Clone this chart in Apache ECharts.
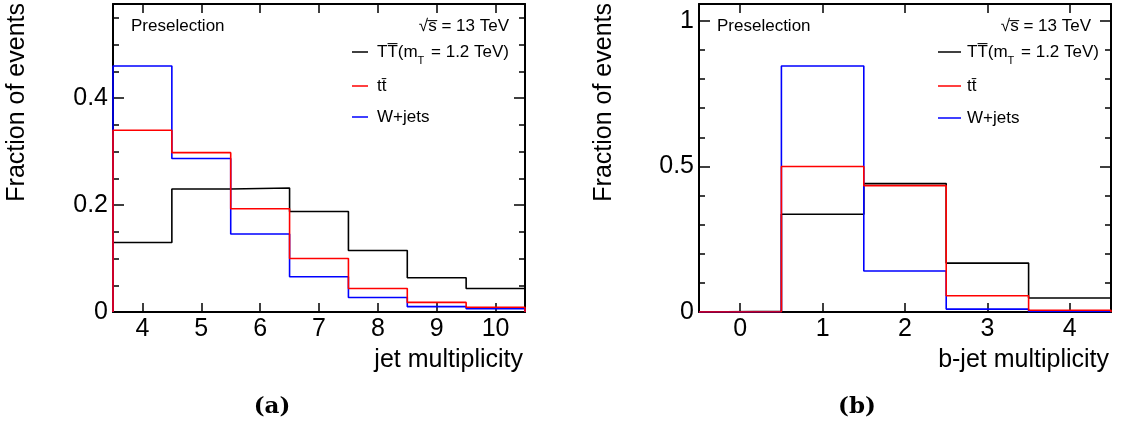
<!DOCTYPE html>
<html>
<head>
<meta charset="utf-8">
<script src="https://cdn.jsdelivr.net/npm/echarts@6/dist/echarts.min.js"></script>
<style>
  html, body { margin: 0; padding: 0; background: #ffffff; }
  #chart { width: 1124px; height: 428px; }
</style>
</head>
<body>
<div id="chart"></div>
<script>
// Jet multiplicity histogram (panel a): bin centres and normalised fractions
const jetBins = [4, 5, 6, 7, 8, 9, 10];
const jetTT = [0.130, 0.230, 0.232, 0.188, 0.115, 0.064, 0.044];
const jetTtbar = [0.340, 0.298, 0.193, 0.100, 0.044, 0.018, 0.009];
const jetWjets = [0.460, 0.287, 0.146, 0.066, 0.027, 0.010, 0.006];

// b-jet multiplicity histogram (panel b)
const bjetBins = [0, 1, 2, 3, 4];
const bjetTT = [0.002, 0.336, 0.441, 0.168, 0.048];
const bjetTtbar = [0.001, 0.500, 0.434, 0.056, 0.006];
const bjetWjets = [0.001, 0.845, 0.141, 0.010, 0.002];

// Axis ranges and tick marks
const jetRange = [3.5, 10.5];
const bjetRange = [-0.5, 4.5];
const jetYMax = 0.576;
const bjetYMax = 1.058;
const jetYMajor = [0, 0.2, 0.4];
const jetYMinor = [0.05, 0.1, 0.15, 0.25, 0.3, 0.35, 0.45, 0.5, 0.55];
const bjetYMajor = [0, 0.5, 1];
const bjetYMinor = [0.1, 0.2, 0.3, 0.4, 0.6, 0.7, 0.8, 0.9];

const seriesNames = ['TT', 'tt', 'W+jets'];
const seriesColors = ['#000000', '#ff0000', '#0000ff'];

const FONT = '"Liberation Sans", Arial, Helvetica, sans-serif';
const chart = echarts.init(document.getElementById('chart'), null, { renderer: 'canvas' });

// Outline of a histogram: rise at the first edge, flat tops, drop at the last edge
function histOutline(centres, values) {
  const pts = [[centres[0] - 0.5, 0]];
  centres.forEach((c, i) => pts.push([c - 0.5, values[i]]));
  const last = centres.length - 1;
  pts.push([centres[last] + 0.5, values[last]]);
  pts.push([centres[last] + 0.5, 0]);
  return pts;
}

const frameLine = { show: true, onZero: false, lineStyle: { color: '#000', width: 2 } };

function xAxesFor(gridIndex, range, ticks) {
  return [
    {
      type: 'value', gridIndex, position: 'bottom', min: range[0], max: range[1],
      axisLine: frameLine,
      axisTick: { show: true, inside: true, length: 9, customValues: ticks, lineStyle: { color: '#000', width: 1.5 } },
      axisLabel: { show: true, customValues: ticks, color: '#000', fontSize: 25, fontFamily: FONT, margin: 5 },
      splitLine: { show: false }
    },
    {
      type: 'value', gridIndex, position: 'top', min: range[0], max: range[1],
      axisLine: frameLine,
      axisTick: { show: true, inside: true, length: 9, customValues: ticks, lineStyle: { color: '#000', width: 1.5 } },
      axisLabel: { show: false },
      splitLine: { show: false }
    }
  ];
}

function yAxesFor(gridIndex, yMax, major, minor) {
  const base = { type: 'value', gridIndex, min: 0, max: yMax, splitLine: { show: false } };
  const tick = (vals, len) => ({ show: true, inside: true, length: len, customValues: vals, lineStyle: { color: '#000', width: 1.5 } });
  return [
    Object.assign({}, base, {
      position: 'left', axisLine: frameLine, axisTick: tick(major, 11),
      axisLabel: { show: true, customValues: major, color: '#000', fontSize: 25, fontFamily: FONT, margin: 5 }
    }),
    Object.assign({}, base, {
      position: 'left', axisLine: { show: false, onZero: false }, axisTick: tick(minor, 6), axisLabel: { show: false }
    }),
    Object.assign({}, base, {
      position: 'right', axisLine: frameLine, axisTick: tick(major, 11), axisLabel: { show: false }
    }),
    Object.assign({}, base, {
      position: 'right', axisLine: { show: false, onZero: false }, axisTick: tick(minor, 6), axisLabel: { show: false }
    })
  ];
}

function histSeries(name, color, data, xIdx, yIdx) {
  return {
    type: 'line', name, step: 'end', symbol: 'none', data,
    xAxisIndex: xIdx, yAxisIndex: yIdx,
    lineStyle: { color, width: 1.6 }, silent: true, animation: false, z: 1
  };
}

const jetSets = [jetTT, jetWjets, jetTtbar];
const bjetSets = [bjetTT, bjetWjets, bjetTtbar];
const drawOrder = [0, 2, 1];

const series = [];
drawOrder.forEach((k, j) => {
  series.push(histSeries(seriesNames[k], seriesColors[k], histOutline(jetBins, jetSets[j]), 0, 0));
});
drawOrder.forEach((k, j) => {
  series.push(histSeries(seriesNames[k], seriesColors[k], histOutline(bjetBins, bjetSets[j]), 2, 4));
});

// Text annotations and legend for one panel
function panelGraphics(o) {
  const t = (x, y, text, align, extra) => ({
    type: 'text', x, y, silent: true,
    style: Object.assign({ text, fill: '#000', font: '17px ' + FONT, textAlign: align, textVerticalAlign: 'middle' }, extra || {})
  });
  const seg = (y, color) => ({
    type: 'line', silent: true,
    shape: { x1: o.lineX1, y1: y, x2: o.lineX2, y2: y },
    style: { stroke: color, lineWidth: 1.5 }
  });
  return [
    t(o.preX, 26, 'Preselection', 'left'),
    t(o.rootsX, 26, '\u221As\u0305 = 13 TeV', 'right'),
    seg(o.legY[0], seriesColors[0]),
    seg(o.legY[1], seriesColors[1]),
    seg(o.legY[2], seriesColors[2]),
    {
      type: 'text', x: o.textX, y: o.legY[0], silent: true,
      style: {
        text: '{m|TT\u0305(m}{s|T}{m| = 1.2 TeV)}',
        textVerticalAlign: 'middle', textAlign: 'left',
        rich: {
          m: { fontSize: 17, fontFamily: FONT, color: '#000', lineHeight: 28, verticalAlign: 'middle' },
          s: { fontSize: 11, fontFamily: FONT, color: '#000', lineHeight: 28, verticalAlign: 'bottom', padding: [0, 2, 0, 0] }
        }
      }
    },
    t(o.textX, o.legY[1], 'tt\u0304', 'left'),
    t(o.textX, o.legY[2], 'W+jets', 'left'),
    {
      type: 'text', x: o.yTitleX, y: 3, rotation: Math.PI / 2, silent: true,
      style: { text: 'Fraction of events', fill: '#000', font: '25px ' + FONT, textAlign: 'right', textVerticalAlign: 'middle' }
    },
    t(o.xTitleX, 360, o.xTitle, 'right', { font: '25px ' + FONT }),
    t(o.capX, 407, o.cap, 'center', { font: 'bold 23px "DejaVu Serif", serif' })
  ];
}

const graphics = [].concat(
  panelGraphics({
    preX: 131, rootsX: 509, lineX1: 352, lineX2: 368, textX: 377, legY: [52, 86, 117],
    yTitleX: 17, xTitleX: 523, xTitle: 'jet multiplicity', capX: 272, cap: '(a)'
  }),
  panelGraphics({
    preX: 717, rootsX: 1091, lineX1: 938, lineX2: 961, textX: 967, legY: [52, 86, 118],
    yTitleX: 604, xTitleX: 1109, xTitle: 'b-jet multiplicity', capX: 857, cap: '(b)'
  })
);

chart.setOption({
  animation: false,
  backgroundColor: '#ffffff',
  grid: [
    { left: 113, top: 4, width: 412, height: 308 },
    { left: 699, top: 4, width: 412, height: 308 }
  ],
  xAxis: [].concat(
    xAxesFor(0, jetRange, jetBins),
    xAxesFor(1, bjetRange, bjetBins)
  ),
  yAxis: [].concat(
    yAxesFor(0, jetYMax, jetYMajor, jetYMinor),
    yAxesFor(1, bjetYMax, bjetYMajor, bjetYMinor)
  ),
  series,
  graphic: graphics
});
</script>
</body>
</html>
